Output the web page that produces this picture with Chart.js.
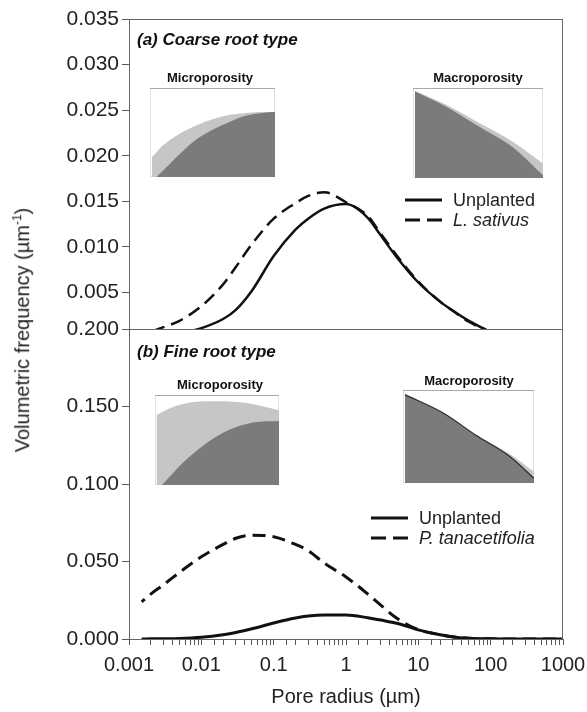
<!DOCTYPE html>
<html lang="en">
<head>
<meta charset="UTF-8">
<title>Pore size distribution</title>
<script src="https://cdn.jsdelivr.net/npm/chart.js"></script>
<style>
    body {
        margin: 0;
        background: #fff;
        font-family: 'Liberation Sans', Arial, sans-serif;
        color: #222;
    }

    .figure {
        position: relative;
        width: 587px;
        height: 712px;
        overflow: hidden;
    }

    .figure canvas {
        position: absolute;
    }

    .y-title {
        position: absolute;
        left: 22px;
        top: 330px;
        transform: translate(-50%, -50%) rotate(-90deg);
        white-space: nowrap;
        font-size: 20px;
    }

    .y-title sup {
        font-size: 12px;
    }

    .inset-title {
        position: absolute;
        transform: translate(-50%, -50%);
        white-space: nowrap;
        font-size: 13px;
        font-weight: bold;
        color: #111;
    }
</style>
</head>
<body>
<div class="figure">
    <canvas id="topChart" width="587" height="345" style="left:0; top:0"></canvas>
    <canvas id="bottomChart" width="620" height="412" style="left:0; top:300px"></canvas>

    <div class="y-title">Volumetric frequency (µm<sup>-1</sup>)</div>

    <div class="inset-title" style="left:210px; top:77px">Microporosity</div>
    <canvas id="insetCoarseMicro" width="125" height="89" style="left:150px; top:88px"></canvas>
    <div class="inset-title" style="left:478px; top:77px">Macroporosity</div>
    <canvas id="insetCoarseMacro" width="130" height="90" style="left:413px; top:88px"></canvas>

    <div class="inset-title" style="left:220px; top:384px">Microporosity</div>
    <canvas id="insetFineMicro" width="124" height="90" style="left:155px; top:395px"></canvas>
    <div class="inset-title" style="left:469px; top:380px">Macroporosity</div>
    <canvas id="insetFineMacro" width="131" height="93" style="left:403px; top:390px"></canvas>
</div>

<script>
    // pore radius (µm) shared by all four curves
    const radius = [0.0015, 0.002, 0.003, 0.005, 0.01, 0.02, 0.03, 0.05, 0.1, 0.2, 0.3, 0.5,
                    1, 2, 3, 5, 10, 20, 30, 50, 100, 200, 500, 1000];
    const radiusLabels = ['0.001', '0.01', '0.1', '1', '10', '100', '1000'];

    // (a) coarse root type
    const coarseUnplanted = [0.0000, 0.0001, 0.0002, 0.0005, 0.0011, 0.0021, 0.0031, 0.0052, 0.0090, 0.0119, 0.0131, 0.0142,
                             0.0147, 0.0132, 0.0113, 0.0089, 0.0061, 0.0040, 0.0030, 0.0019, 0.0007, 0.0002, 0, 0];
    const coarseSativus = [0.0004, 0.0007, 0.0012, 0.0019, 0.0035, 0.0059, 0.0078, 0.0103, 0.0131, 0.0148, 0.0156, 0.0160,
                           0.0149, 0.0134, 0.0115, 0.0091, 0.0062, 0.0040, 0.0030, 0.0018, 0.0007, 0.0002, 0, 0];

    // (b) fine root type
    const fineUnplanted = [0.0000, 0.0001, 0.0002, 0.0004, 0.0012, 0.0028, 0.0042, 0.0066, 0.0103, 0.0135, 0.0148, 0.0155,
                           0.0155, 0.0137, 0.0122, 0.0102, 0.0059, 0.0027, 0.0013, 0.0005, 0.0001, 0, 0, 0];
    const fineTanacetifolia = [0.024, 0.029, 0.035, 0.043, 0.053, 0.061, 0.065, 0.067, 0.066, 0.061, 0.057, 0.049,
                               0.040, 0.029, 0.022, 0.0135, 0.0060, 0.0028, 0.0014, 0.0005, 0.0001, 0, 0, 0];

    // inset close-ups, [relative position, relative height]
    const coarseMicroPlanted = [[0.015, 0.22], [0.1, 0.35], [0.24, 0.49], [0.37, 0.58], [0.5, 0.65], [0.64, 0.70], [0.77, 0.72], [0.9, 0.73], [1, 0.73]];
    const coarseMicroBare = [[0.05, 0], [0.16, 0.15], [0.27, 0.30], [0.37, 0.42], [0.5, 0.53], [0.64, 0.62], [0.77, 0.69], [0.9, 0.72], [1, 0.73]];
    const coarseMacroPlanted = [[0.015, 0.97], [0.26, 0.81], [0.51, 0.61], [0.77, 0.40], [1, 0.16]];
    const coarseMacroBare = [[0.015, 0.96], [0.26, 0.79], [0.51, 0.57], [0.77, 0.34], [1, 0.03]];
    const fineMicroPlanted = [[0.013, 0.78], [0.15, 0.87], [0.42, 0.93], [0.69, 0.92], [0.82, 0.89], [1, 0.83]];
    const fineMicroBare = [[0.056, 0], [0.15, 0.14], [0.25, 0.28], [0.42, 0.47], [0.55, 0.58], [0.69, 0.66], [0.82, 0.70], [1, 0.71]];
    const fineMacroPlanted = [[0.015, 0.95], [0.31, 0.75], [0.56, 0.52], [0.82, 0.31], [1, 0.12]];
    const fineMacroBare = [[0.015, 0.95], [0.31, 0.75], [0.56, 0.51], [0.82, 0.28], [1, 0.05]];

    Chart.defaults.font.family = "'Liberation Sans', Arial, sans-serif";
    Chart.defaults.color = '#222';

    const FONT = "'Liberation Sans', Arial, sans-serif";
    const PLOT_RIGHT = 563;

    function points(values) {
        return radius.map((r, i) => ({ x: r, y: values[i] }));
    }

    // box round the plot area
    const panelFrame = {
        id: 'panelFrame',
        afterDraw(chart) {
            const { ctx, chartArea: a } = chart;
            ctx.save();
            ctx.strokeStyle = '#666';
            ctx.lineWidth = 1;
            ctx.strokeRect(Math.round(a.left) + 0.5, Math.round(a.top) + 0.5,
                Math.round(a.right - a.left) - 1, Math.round(a.bottom - a.top));
            ctx.restore();
        }
    };

    // panel heading and the little legend inside the plot
    const panelText = {
        id: 'panelText',
        afterDatasetsDraw(chart, args, opts) {
            const ctx = chart.ctx;
            ctx.save();
            ctx.fillStyle = '#111';
            ctx.textBaseline = 'alphabetic';
            ctx.font = 'italic bold 17px ' + FONT;
            ctx.fillText(opts.title, opts.titleX, opts.titleY);

            chart.data.datasets.forEach((ds, i) => {
                const y = opts.legendY + i * 20;
                ctx.strokeStyle = '#111';
                ctx.lineWidth = 3;
                ctx.setLineDash(ds.borderDash ? [15, 7] : []);
                ctx.beginPath();
                ctx.moveTo(opts.legendX, y);
                ctx.lineTo(opts.legendX + 37, y);
                ctx.stroke();
                ctx.setLineDash([]);
                ctx.font = (i === 1 ? 'italic ' : '') + '18px ' + FONT;
                ctx.textBaseline = 'middle';
                ctx.fillStyle = '#222';
                ctx.fillText(ds.label, opts.legendX + 48, y + 1);
            });
            ctx.restore();
        }
    };

    function yAxis(min, max, step) {
        return {
            type: 'linear',
            min: min,
            max: max,
            ticks: {
                stepSize: step,
                font: { size: 21 },
                padding: 3,
                callback: v => v.toFixed(3)
            },
            grid: { drawOnChartArea: false, tickLength: 7, color: '#555' },
            border: { color: '#555' },
            afterBuildTicks(scale) {
                scale.ticks = scale.ticks.filter(t => t.value >= min + step * 0.5 || min === 0);
            },
            afterFit(scale) {
                scale.width = 129;
            }
        };
    }

    function lineSet(label, values, dashed, width) {
        return {
            label: label,
            data: points(values),
            borderColor: '#111',
            borderWidth: width,
            borderDash: dashed ? [13, 7] : undefined,
            borderDashOffset: dashed ? 9 : 0,
            pointRadius: 0,
            fill: false,
            cubicInterpolationMode: 'monotone'
        };
    }

    // (a) coarse root type
    const topCanvas = document.getElementById('topChart');
    new Chart(topCanvas, {
        type: 'line',
        data: {
            datasets: [
                lineSet('Unplanted', coarseUnplanted, false, 2.5),
                lineSet('L. sativus', coarseSativus, true, 2.5)
            ]
        },
        options: {
            responsive: false,
            animation: false,
            layout: { padding: { top: 19, right: topCanvas.width - PLOT_RIGHT, bottom: 16, left: 0 } },
            scales: {
                x: { type: 'logarithmic', min: 0.001, max: 1000, display: false },
                y: yAxis(0.001, 0.035, 0.005)
            },
            plugins: {
                legend: { display: false },
                tooltip: { enabled: false },
                panelText: {
                    title: '(a) Coarse root type', titleX: 137, titleY: 45,
                    legendX: 405, legendY: 200
                }
            }
        },
        plugins: [panelFrame, panelText]
    });

    // (b) fine root type; the canvas runs past the page edge so the last tick label has room
    const bottomCanvas = document.getElementById('bottomChart');
    new Chart(bottomCanvas, {
        type: 'line',
        data: {
            datasets: [
                lineSet('Unplanted', fineUnplanted, false, 3),
                lineSet('P. tanacetifolia', fineTanacetifolia, true, 3)
            ]
        },
        options: {
            responsive: false,
            animation: false,
            layout: { padding: { top: 29, right: bottomCanvas.width - PLOT_RIGHT, bottom: 0, left: 0 } },
            scales: {
                x: {
                    type: 'logarithmic',
                    min: 0.001,
                    max: 1000,
                    ticks: {
                        autoSkip: false,
                        maxRotation: 0,
                        font: { size: 20 },
                        padding: 8,
                        callback(value) {
                            const p = Math.log10(value);
                            return Math.abs(p - Math.round(p)) < 1e-6 ? radiusLabels[Math.round(p) + 3] : '';
                        }
                    },
                    grid: { drawOnChartArea: false, tickLength: 6, color: '#555' },
                    border: { color: '#555' },
                    title: {
                        display: true,
                        text: 'Pore radius (µm)',
                        font: { size: 20 },
                        padding: { top: 0, bottom: 3 }
                    },
                    afterFit(scale) {
                        scale.height = 73;
                    }
                },
                y: yAxis(0, 0.2, 0.05)
            },
            plugins: {
                legend: { display: false },
                tooltip: { enabled: false },
                panelText: {
                    title: '(b) Fine root type', titleX: 137, titleY: 57,
                    legendX: 371, legendY: 218
                }
            }
        },
        plugins: [panelFrame, panelText]
    });

    // thin frame round each inset
    const insetFrame = {
        id: 'insetFrame',
        beforeDraw(chart) {
            const { ctx, width, height } = chart;
            ctx.save();
            ctx.strokeStyle = '#e2e2e2';
            ctx.lineWidth = 1;
            ctx.strokeRect(0.5, 0.5, width - 1, height - 1);
            ctx.strokeStyle = '#a8a8a8';
            ctx.beginPath();
            ctx.moveTo(0, 0.5);
            ctx.lineTo(width, 0.5);
            ctx.stroke();
            ctx.restore();
        }
    };

    function inset(id, planted, bare, edge) {
        const toXY = arr => arr.map(p => ({ x: p[0], y: p[1] }));
        new Chart(document.getElementById(id), {
            type: 'line',
            data: {
                datasets: [
                    {
                        data: toXY(bare),
                        borderColor: edge ? '#2a2a2a' : '#7b7b7b',
                        borderWidth: edge ? 1.2 : 0,
                        backgroundColor: '#7b7b7b',
                        fill: 'origin',
                        pointRadius: 0,
                        cubicInterpolationMode: 'monotone'
                    },
                    {
                        data: toXY(planted),
                        borderWidth: 0,
                        backgroundColor: '#c6c6c6',
                        fill: 'origin',
                        pointRadius: 0,
                        cubicInterpolationMode: 'monotone'
                    }
                ]
            },
            options: {
                responsive: false,
                animation: false,
                layout: { padding: 0 },
                scales: {
                    x: { type: 'linear', min: 0, max: 1, display: false },
                    y: { type: 'linear', min: 0, max: 1, display: false }
                },
                plugins: { legend: { display: false }, tooltip: { enabled: false } }
            },
            plugins: [insetFrame]
        });
    }

    inset('insetCoarseMicro', coarseMicroPlanted, coarseMicroBare, false);
    inset('insetCoarseMacro', coarseMacroPlanted, coarseMacroBare, false);
    inset('insetFineMicro', fineMicroPlanted, fineMicroBare, false);
    inset('insetFineMacro', fineMacroPlanted, fineMacroBare, true);
</script>
</body>
</html>
